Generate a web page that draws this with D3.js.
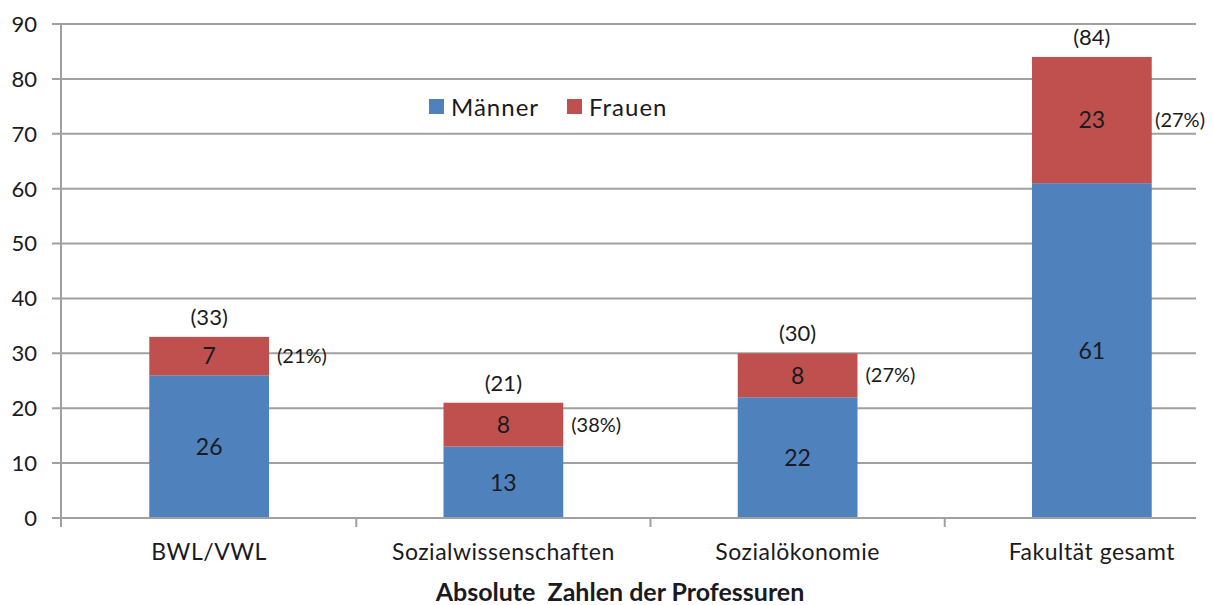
<!DOCTYPE html>
<html>
<head>
<meta charset="utf-8">
<script src="https://cdn.jsdelivr.net/npm/d3@7"></script>
<style>
  body { margin: 0; background: #fff; }
  svg text { font-family: Lato, "Open Sans", sans-serif; fill: #1a1a20; }
</style>
</head>
<body>
<svg id="chart" width="1213" height="605"></svg>
<script>
const categories = ["BWL/VWL", "Sozialwissenschaften", "Sozialökonomie", "Fakultät gesamt"];
const maenner = [26, 13, 22, 61];
const frauen = [7, 8, 8, 23];
const yTicks = [0, 10, 20, 30, 40, 50, 60, 70, 80, 90];
const seriesNames = ["Männer", "Frauen"];
const axisTitle = "Absolute  Zahlen der Professuren";

const colors = { "Männer": "#4f81bd", "Frauen": "#c0504d" };

const svg = d3.select("#chart");
const width = +svg.attr("width");
const plotLeft = 61, plotRight = 1196, plotTop = 24, plotBottom = 518;

// rows for stacking
const rows = categories.map((c, i) => ({ cat: c, "Männer": maenner[i], "Frauen": frauen[i] }));
const stacked = d3.stack().keys(seriesNames)(rows);

const y = d3.scaleLinear().domain([0, 90]).range([plotBottom, plotTop]);
const x = d3.scaleBand()
    .domain(categories)
    .range([plotLeft, 1240])
    .paddingInner(0.593)
    .paddingOuter(0.3);

// gridlines
svg.append("g").selectAll("line")
    .data(yTicks)
    .enter().append("line")
    .attr("x1", plotLeft - 9)
    .attr("x2", plotRight)
    .attr("y1", d => y(d))
    .attr("y2", d => y(d))
    .attr("stroke", "#a0a0a0")
    .attr("stroke-width", 2);

svg.append("g").selectAll("text")
    .data(yTicks)
    .enter().append("text")
    .attr("x", 37)
    .attr("y", d => y(d))
    .attr("dy", "0.36em")
    .attr("text-anchor", "end")
    .style("font-size", "22px")
    .text(d => d);

// y axis line
svg.append("line")
    .attr("x1", plotLeft).attr("x2", plotLeft)
    .attr("y1", plotTop).attr("y2", plotBottom + 9)
    .attr("stroke", "#a0a0a0")
    .attr("stroke-width", 2);

// category boundary ticks
const step = x.step();
const boundaries = categories.slice(1).map(c => x(c) - step * x.paddingInner() / 2);
svg.append("g").selectAll("line")
    .data(boundaries)
    .enter().append("line")
    .attr("x1", d => d).attr("x2", d => d)
    .attr("y1", plotBottom).attr("y2", plotBottom + 9)
    .attr("stroke", "#a0a0a0")
    .attr("stroke-width", 2);

// bars
svg.append("g").selectAll("g")
    .data(stacked)
    .enter().append("g")
    .attr("fill", d => colors[d.key])
    .selectAll("rect")
    .data(d => d)
    .enter().append("rect")
    .attr("x", d => x(d.data.cat))
    .attr("width", x.bandwidth())
    .attr("y", d => y(d[1]))
    .attr("height", d => y(d[0]) - y(d[1]));

// x axis line
svg.append("line")
    .attr("x1", plotLeft).attr("x2", plotRight)
    .attr("y1", plotBottom).attr("y2", plotBottom)
    .attr("stroke", "#a0a0a0")
    .attr("stroke-width", 2);

// value labels inside segments
stacked.forEach(s => {
    svg.append("g").selectAll("text")
        .data(s)
        .enter().append("text")
        .attr("x", d => x(d.data.cat) + x.bandwidth() / 2)
        .attr("y", d => y((d[0] + d[1]) / 2))
        .attr("dy", "0.36em")
        .attr("text-anchor", "middle")
        .style("font-size", "23px")
        .text(d => d[1] - d[0]);
});

// totals above bars
svg.append("g").selectAll("text")
    .data(rows)
    .enter().append("text")
    .attr("x", d => x(d.cat) + x.bandwidth() / 2)
    .attr("y", d => y(d["Männer"] + d["Frauen"]) - 12)
    .attr("text-anchor", "middle")
    .style("font-size", "22px")
    .text(d => "(" + (d["Männer"] + d["Frauen"]) + ")");

// share of women, right of bar (kept inside the chart edge)
svg.append("g").selectAll("text")
    .data(rows)
    .enter().append("text")
    .attr("y", d => y(d["Männer"] + d["Frauen"] / 2))
    .attr("dy", "0.36em")
    .style("font-size", "20px")
    .text(d => "(" + Math.round(100 * d["Frauen"] / (d["Männer"] + d["Frauen"])) + "%)")
    .attr("x", function(d) {
        const w = this.getComputedTextLength();
        return Math.min(x(d.cat) + x.bandwidth() + 8, width - 8 - w);
    });

// category labels
svg.append("g").selectAll("text")
    .data(categories)
    .enter().append("text")
    .attr("x", d => x(d) + x.bandwidth() / 2)
    .attr("y", 560)
    .attr("text-anchor", "middle")
    .style("font-size", "23px")
    .style("letter-spacing", "0.5px")
    .text(d => d);

// axis title
svg.append("text")
    .attr("x", 620)
    .attr("y", 601)
    .attr("text-anchor", "middle")
    .style("font-size", "25px")
    .style("font-weight", "bold")
    .style("white-space", "pre")
    .text(axisTitle);

// legend
const legend = svg.append("g").selectAll("g")
    .data(seriesNames)
    .enter().append("g")
    .attr("transform", (d, i) => `translate(${[429, 567][i]},99)`);

legend.append("rect")
    .attr("width", 15)
    .attr("height", 15)
    .attr("fill", d => colors[d]);

legend.append("text")
    .attr("x", 22)
    .attr("y", 8)
    .attr("dy", "0.36em")
    .style("font-size", "24px")
    .style("letter-spacing", "1px")
    .text(d => d);
</script>
</body>
</html>
